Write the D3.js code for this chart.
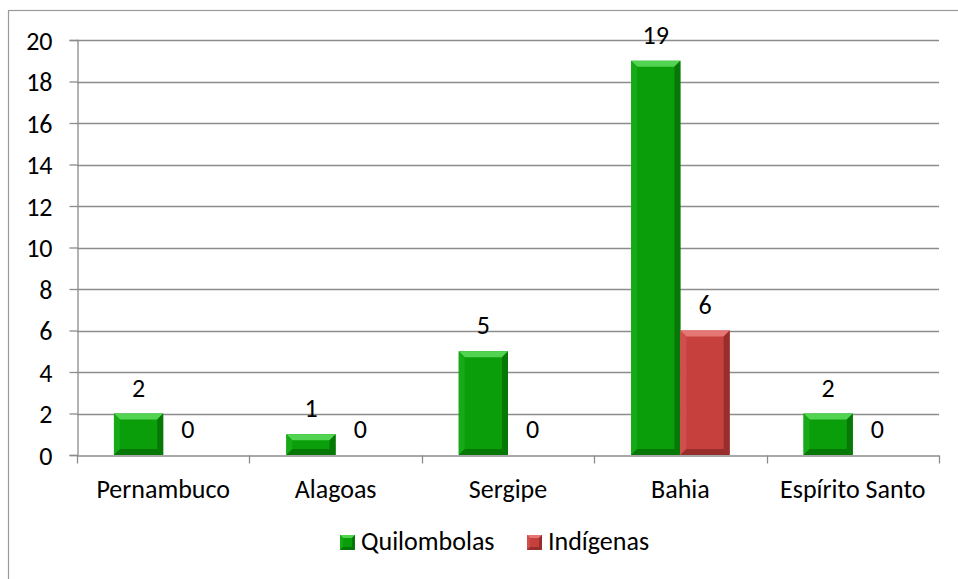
<!DOCTYPE html>
<html>
<head>
<meta charset="utf-8">
<script src="https://cdn.jsdelivr.net/npm/d3@7"></script>
<style>
  body { margin: 0; background: #fff; }
  svg { display: block; font-family: Carlito, Calibri, Lato, sans-serif; }
</style>
</head>
<body>
<div class="content-container"></div>
<script>
const categories = ["Pernambuco", "Alagoas", "Sergipe", "Bahia", "Espírito Santo"];
const quilombolas = [2, 1, 5, 19, 2];
const indigenas = [0, 0, 0, 6, 0];
const seriesNames = ["Quilombolas", "Indígenas"];
const yTicks = [0, 2, 4, 6, 8, 10, 12, 14, 16, 18, 20];

const width = 958;
const height = 579;
const plotLeft = 77, plotRight = 939, plotTop = 40, plotBottom = 455;
const fontSize = 26;

// colours for each series: base, light (top bevel), mid (left), dark (right/bottom)
const palette = [
  { base: "#0a9e0a", light: "#52d352", mid: "#16aa16", dark: "#077807" },
  { base: "#c6403e", light: "#e67674", mid: "#d04e4c", dark: "#982e2c" }
];

const dataset = categories.map((c, i) => ({ cat: c, values: [quilombolas[i], indigenas[i]] }));

const svg = d3.select(".content-container")
  .append("svg")
  .attr("width", width)
  .attr("height", height);

// CHART BORDER
svg.append("rect")
  .attr("x", 8.5).attr("y", 10.5)
  .attr("width", 1000).attr("height", 1000)
  .attr("fill", "none")
  .attr("stroke", "#9a9a9a")
  .attr("stroke-width", 1.2);

//SCALES
const xScale = d3.scaleBand()
  .domain(categories)
  .range([plotLeft, plotRight])
  .paddingInner(0)
  .paddingOuter(0);

// gap width 150%: two bars + 1.5 bar width in every band
const barW = xScale.bandwidth() / 3.5;

const yScale = d3.scaleLinear()
  .domain([0, 20])
  .range([plotBottom, plotTop]);

//GRIDLINES
svg.append("g")
  .selectAll("line")
  .data(yTicks.filter(d => d > 0))
  .enter()
  .append("line")
  .attr("x1", plotLeft).attr("x2", plotRight)
  .attr("y1", d => Math.round(yScale(d)) + 0.5)
  .attr("y2", d => Math.round(yScale(d)) + 0.5)
  .attr("stroke", "#8c8c8c")
  .attr("stroke-width", 1.3);

//AXES
const yAxis = d3.axisLeft(yScale).tickValues(yTicks).tickSize(8).tickPadding(17);
const gy = svg.append("g")
  .attr("transform", "translate(" + (plotLeft + 0.5) + ",0)")
  .call(yAxis);

const xAxis = d3.axisBottom(xScale).tickSize(0);
const gx = svg.append("g")
  .attr("transform", "translate(0," + (plotBottom + 0.5) + ")")
  .call(xAxis);
gx.selectAll("text").attr("y", 42).attr("dy", 0);

// category boundary ticks
gx.selectAll(".boundary")
  .data(d3.range(categories.length + 1))
  .enter()
  .append("line")
  .attr("class", "boundary")
  .attr("x1", i => Math.round(plotLeft + i * xScale.step()) + 0.5)
  .attr("x2", i => Math.round(plotLeft + i * xScale.step()) + 0.5)
  .attr("y1", 0).attr("y2", 8);

[gx, gy].forEach(g => {
  g.select(".domain").attr("stroke", "#8c8c8c").attr("stroke-width", 1.3);
  g.selectAll("line").attr("stroke", "#8c8c8c").attr("stroke-width", 1.3);
  g.selectAll("text")
    .attr("fill", "#000")
    .style("font-size", fontSize + "px")
    .style("font-family", "Carlito, Calibri, Lato, sans-serif");
});
gy.selectAll("text").attr("dy", "0.35em");

//BEVELLED BARS
function bevelBar(g, x, y, w, h, col, bevel) {
  const b = Math.min(bevel, h / 2);
  g.append("rect").attr("x", x).attr("y", y).attr("width", w).attr("height", h).attr("fill", col.base);
  if (h <= 0) return;
  const poly = (pts, fill) => g.append("polygon")
    .attr("points", pts.map(p => p.join(",")).join(" "))
    .attr("fill", fill);
  poly([[x, y], [x + w, y], [x + w - b, y + b], [x + b, y + b]], col.light);
  poly([[x, y], [x + b, y + b], [x + b, y + h - b], [x, y + h]], col.mid);
  poly([[x + w, y], [x + w, y + h], [x + w - b, y + h - b], [x + w - b, y + b]], col.dark);
  poly([[x, y + h], [x + b, y + h - b], [x + w - b, y + h - b], [x + w, y + h]], col.dark);
}

const groups = svg.selectAll(".cat")
  .data(dataset)
  .enter()
  .append("g")
  .attr("class", "cat");

groups.each(function (d) {
  const g = d3.select(this);
  const center = xScale(d.cat) + xScale.bandwidth() / 2;
  d.values.forEach((v, s) => {
    const x = center - barW + s * barW;
    const y = yScale(v);
    bevelBar(g, x, y, barW, yScale(0) - y, palette[s], 6);
    g.append("text")
      .attr("x", x + barW / 2)
      .attr("y", y - 17)
      .attr("text-anchor", "middle")
      .style("font-size", fontSize + "px")
      .text(v);
  });
});

//LEGEND
const legendItems = [
  { name: seriesNames[0], x: 340 },
  { name: seriesNames[1], x: 527 }
];
const legend = svg.append("g");
legendItems.forEach((item, s) => {
  bevelBar(legend, item.x, 535, 15, 15, palette[s], 3);
  legend.append("text")
    .attr("x", item.x + 21)
    .attr("y", 550)
    .style("font-size", fontSize + "px")
    .text(item.name);
});
</script>
</body>
</html>
